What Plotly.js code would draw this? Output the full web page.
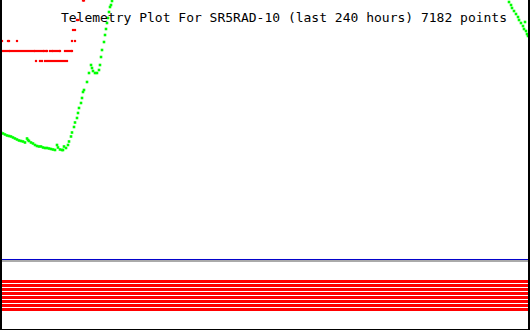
<!DOCTYPE html>
<html>
<head>
<meta charset="utf-8">
<script src="https://cdn.plot.ly/plotly-3.0.1.min.js"></script>
<style>
html,body{margin:0;padding:0;background:#fff;}
#chart{width:530px;height:330px;}
</style>
</head>
<body>
<div id="chart"></div>
<script>
// ---- data (x = hours relative to now, y = raw telemetry value) ----
var titleText = "Telemetry Plot For SR5RAD-10 (last 240 hours) 7182 points";

var greenHours = [
  -239.55,-238.64,-237.74,-236.83,-235.92,-235.02,-234.11,-233.21,-232.30,-231.40,
  -230.49,-229.58,-228.68,-227.77,-227.32,-226.87,-225.96,-225.06,-224.15,-223.25,
  -222.34,-221.43,-220.53,-219.62,-218.72,-217.81,-216.91,-216.00,-215.09,-214.19,
  -213.74,-212.83,-211.92,-211.47,-211.02,-210.11,-209.21,-208.75,-207.85,-207.40,
  -206.49,-206.04,-205.13,-204.68,-204.23,-203.32,-202.87,-202.42,-201.96,-200.60,
  -199.70,-198.79,-198.34,-197.89,-196.98,-196.08,-195.17,-194.72,-194.26,-193.81,
  -192.91,-192.45,-192.00,-191.55,-191.09,-190.64,-190.19,-189.74,-189.28,
  -9.51,-8.60,-8.15,-7.25,-6.34,-5.43,-4.98,-4.08,-3.17,-2.72,-2.26,-1.81,-1.36,-0.91
];
var greenValues = [
  126.5,125.5,124.5,123.5,123,122.5,121.5,120.5,119.5,118.5,
  118,117.5,116.5,120.5,119,118,116.5,115.5,114,113,
  112.5,112.5,111.5,111,111,110.5,110,109.5,109,114,
  111.5,109.5,109,109,112.5,111,114,117.5,122.5,126.5,
  132,136.5,141,146,151,156,161,167,169,177,
  186,194,191,188,186,186,189,194,202,209,
  217,224,230,236,241,247,252,254,258,
  257,254,251,248,245,242,239,236,233,230,237,228,225,223
];

var redHours = [
  // level 208
  -238.64,-237.74,-236.83,-235.92,-235.47,-234.57,-233.66,-232.75,-231.85,-230.94,
  -230.04,-229.13,-228.23,-227.32,-226.42,-225.51,-224.60,-224.15,-223.25,-222.34,
  -221.43,-220.53,-220.08,-219.17,-218.72,-217.36,-216.45,-216.00,-215.09,-214.19,
  -213.28,-212.83,-210.57,-209.66,-208.75,-207.85,-207.40,
  // level 198
  -223.70,-221.89,-220.98,-219.62,-218.72,-217.81,-216.91,-216.00,-215.09,-214.19,
  -213.28,-212.38,-211.47,-210.57,-209.66,
  // level 218
  -239.55,-239.09,-236.38,-235.92,-232.30,-207.40,-206.04,
  // level 229
  -206.94,-206.04,
  // level 239
  -205.13,-204.68,
  // level 258.5
  -202.42,-201.96
];
var redValues = [
  208,208,208,208,208,208,208,208,208,208,
  208,208,208,208,208,208,208,208,208,208,
  208,208,208,208,208,208,208,208,208,208,
  208,208,208,208,208,208,208,
  198,198,198,198,198,198,198,198,198,198,
  198,198,198,198,198,
  218,218,218,218,218,218,218,
  229,229,
  239,239,
  258.5,258.5
];

var statusHours = [-240, 0];
var statusLevels = [48.5, 44.5, 40.5, 36.5, 32.5, 28.5, 24.5, 20.5];

// ---- build traces ----
var bx = [], by = [];
statusLevels.forEach(function (lv) {
  bx.push(statusHours[0], statusHours[1], null);
  by.push(lv, lv, null);
});

var traces = [
  {x: redHours, y: redValues, type: 'scatter', mode: 'markers',
   marker: {symbol: 'square', size: 2.2, color: '#ff0000', line: {width: 0}},
   xaxis: 'x', yaxis: 'y', hoverinfo: 'skip'},
  {x: greenHours, y: greenValues, type: 'scatter', mode: 'markers',
   marker: {symbol: 'square', size: 2.6, color: '#00ff00', line: {width: 0}},
   xaxis: 'x', yaxis: 'y', hoverinfo: 'skip'},
  {x: bx, y: by, type: 'scatter', mode: 'lines',
   line: {color: '#ff0000', width: 3}, connectgaps: false,
   xaxis: 'x2', yaxis: 'y2', hoverinfo: 'skip'}
];

var hidden = {visible: false, showgrid: false, zeroline: false, fixedrange: true};

var layout = {
  width: 530, height: 330,
  margin: {l: 0, r: 0, t: 0, b: 0, pad: 0},
  paper_bgcolor: '#ffffff', plot_bgcolor: '#ffffff',
  showlegend: false,
  title: {text: titleText, x: 0.5358, xanchor: 'center', xref: 'paper',
          y: 0.948, yanchor: 'middle', yref: 'container',
          font: {family: 'DejaVu Sans Mono, monospace', size: 13, color: '#000000'}},
  xaxis: Object.assign({range: [-240, 0], domain: [0, 1], anchor: 'y'}, hidden),
  yaxis: Object.assign({range: [0, 259], domain: [0.2152, 1], anchor: 'x'}, hidden),
  xaxis2: Object.assign({range: [-240, 0], domain: [0, 1], anchor: 'y2'}, hidden),
  yaxis2: Object.assign({range: [0, 69], domain: [0, 0.2091], anchor: 'x2'}, hidden),
  shapes: [
    {type: 'line', xref: 'paper', yref: 'paper', x0: 0, x1: 1, y0: 0.20909, y1: 0.20909,
     line: {color: '#aaaaaa', width: 2}, layer: 'above'},
    {type: 'line', xref: 'paper', yref: 'paper', x0: 0, x1: 1, y0: 0.21364, y1: 0.21364,
     line: {color: '#0000cc', width: 1}, layer: 'above'},
    {type: 'line', xref: 'paper', yref: 'paper', x0: 0, x1: 0, y0: 0, y1: 1,
     line: {color: '#000000', width: 4}, layer: 'above'},
    {type: 'line', xref: 'paper', yref: 'paper', x0: 1, x1: 1, y0: 0, y1: 1,
     line: {color: '#000000', width: 4}, layer: 'above'},
    {type: 'line', xref: 'paper', yref: 'paper', x0: 0, x1: 1, y0: 0, y1: 0,
     line: {color: '#000000', width: 2}, layer: 'above'}
  ]
};

Plotly.newPlot('chart', traces, layout, {staticPlot: true, displayModeBar: false});
</script>
</body>
</html>
